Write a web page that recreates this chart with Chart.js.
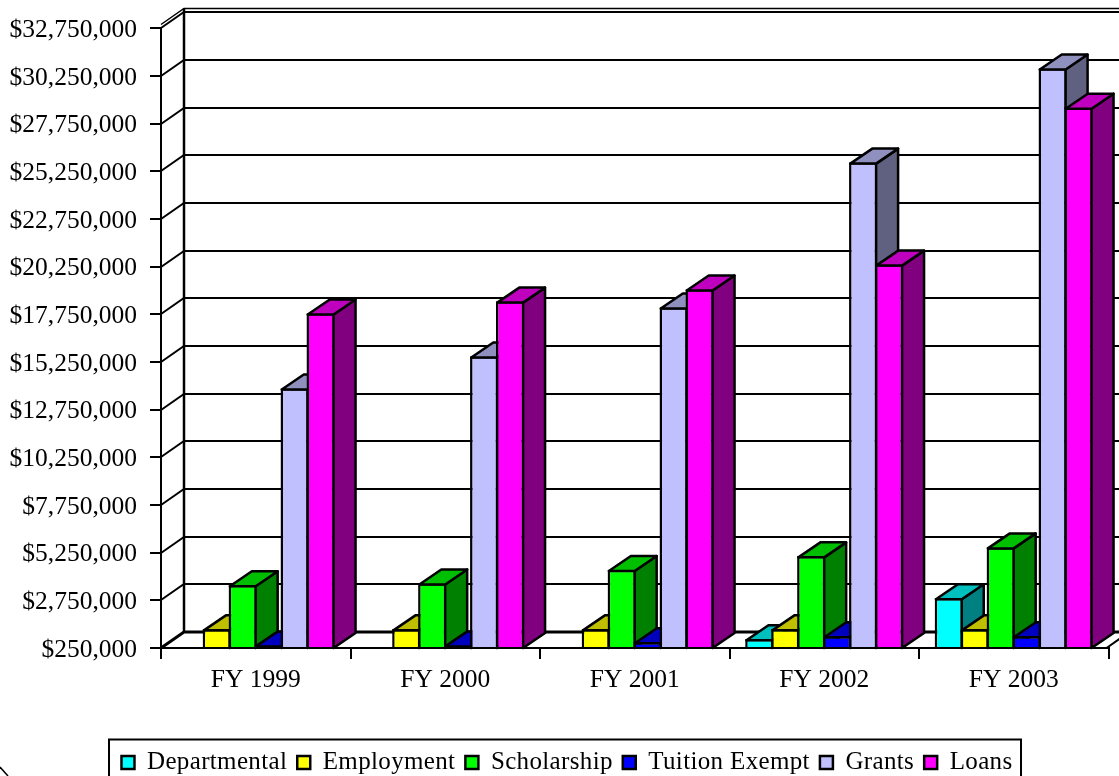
<!DOCTYPE html>
<html><head><meta charset="utf-8">
<style>html,body{margin:0;padding:0;background:#fff;overflow:hidden}canvas{display:block}</style>
<script src="https://cdn.jsdelivr.net/npm/chart.js@4"></script>
</head><body><canvas id="c" width="1119" height="776"></canvas>
<script>
const categories = ['FY 1999','FY 2000','FY 2001','FY 2002','FY 2003'];
const departmental = [null,null,null,720000,2870000];
const employment = [1240000,1240000,1240000,1240000,1240000];
const scholarship = [3550000,3650000,4350000,5070000,5540000];
const tuitionExempt = [400000,400000,560000,880000,880000];
const grants = [13870000,15550000,18120000,25720000,30650000];
const loans = [17810000,18430000,19060000,20370000,28600000];
const fills = ['#00FFFF','#FFFF00','#00FF00','#0000FF','#C0C0FF','#FF00FF'];
const tops  = ['#00BFBF','#BFBF00','#00BF00','#0000BF','#9090BF','#BF00BF'];
const sides = ['#008080','#808000','#008000','#000080','#606080','#800080'];
const names = ['Departmental','Employment','Scholarship','Tuition Exempt','Grants','Loans'];
const seriesValues = [departmental,employment,scholarship,tuitionExempt,grants,loans];
const depth = {wallX:23, wallY:16, barX:22, barY:15};
const FONT = 'Liberation Serif';
const EDGE = 2.5;
Chart.defaults.font.family = FONT;
Chart.defaults.color = '#000';

function poly(ctx, pts, fill){
  ctx.beginPath();
  pts.forEach((p,i)=> i?ctx.lineTo(p[0],p[1]):ctx.moveTo(p[0],p[1]));
  ctx.closePath();
  ctx.fillStyle=fill; ctx.fill();
  ctx.lineWidth=EDGE; ctx.strokeStyle='#000'; ctx.lineJoin='round'; ctx.stroke();
}
const walls = {
  id:'walls',
  beforeLayout(chart){ chart.ctx.letterSpacing='0.35px'; },
  afterLayout(chart){
    chart.ctx.letterSpacing='0px';
    const lg = chart.legend;
    const h = lg.height;
    lg.top = 762.5 - h/2; lg.bottom = lg.top + h;
    lg.left = 7.5; lg.right = chart.width + 7.5;
    if(!lg._wrapped){
      lg._wrapped = true;
      const d = lg.draw.bind(lg);
      lg.draw = function(){ chart.ctx.letterSpacing='0.35px'; d(); chart.ctx.letterSpacing='0px'; };
    }
  },
  beforeDraw(chart){
    const c = chart.ctx;
    c.save(); c.fillStyle='#fff'; c.fillRect(0,0,chart.width,chart.height);
    c.strokeStyle='#000'; c.lineWidth=2;
    c.strokeRect(109,739.5,912,50);
    c.lineWidth=1.5; c.beginPath(); c.moveTo(0,767); c.lineTo(8,776); c.stroke();
    c.restore();
  },
  beforeDatasetDraw(){ return false; },
  beforeDatasetsDraw(chart){
    const c = chart.ctx, y = chart.scales.y, a = chart.chartArea;
    const dx = depth.wallX, dy = depth.wallY;
    c.save(); c.strokeStyle='#000'; c.lineCap='butt';
    y.ticks.forEach((t,i)=>{
      const py = Math.round(y.getPixelForValue(t.value));
      c.lineWidth = i===0 ? 3 : 2;
      c.beginPath();
      c.moveTo(a.left,py); c.lineTo(a.left+dx,py-dy); c.lineTo(chart.width+5,py-dy);
      c.stroke();
    });
    const topY = Math.round(y.getPixelForValue(y.max));
    c.lineWidth=1.5;
    c.beginPath(); c.moveTo(a.left,topY-3.5); c.lineTo(a.left+dx,topY-dy-3.5); c.lineTo(chart.width+5,topY-dy-3.5); c.stroke();
    c.lineWidth=2.5;
    c.beginPath(); c.moveTo(a.left+dx,topY-dy-3.5); c.lineTo(a.left+dx,y.getPixelForValue(y.min)-dy); c.stroke();
    const by = y.getPixelForValue(y.min);
    c.lineWidth=2;
    c.beginPath(); c.moveTo(a.right-2,by); c.lineTo(a.right-2+dx,by-dy); c.stroke();
    c.restore();
  },
  afterDatasetsDraw(chart){
    // series painted left to right, each with its depth faces, so that a later bar hides the side of an earlier one
    const c = chart.ctx, dx = depth.barX, dy = depth.barY, a = chart.chartArea;
    const b = chart.scales.y.getPixelForValue(chart.scales.y.min);
    names.forEach((n,i)=>{
      const meta = chart.getDatasetMeta(i);
      c.save(); c.beginPath(); c.rect(0,0,chart.width,b); c.clip();
      meta.controller.draw();
      c.restore();
      meta.data.forEach((bar,k)=>{
        if(seriesValues[i][k]==null) return;
        const p = bar.getProps(['x','y','width'],true);
        const l = p.x-p.width/2+EDGE/2, r = p.x+p.width/2-EDGE/2, t = p.y+EDGE/2;
        c.save();
        poly(c,[[r,t],[r+dx,t-dy],[r+dx,b-dy],[r,b]],sides[i]);
        poly(c,[[l,t],[r,t],[r+dx,t-dy],[l+dx,t-dy]],tops[i]);
        c.restore();
      });
    });
    c.save(); c.strokeStyle='#000'; c.lineWidth=2;
    c.beginPath(); c.moveTo(a.left-11,a.bottom); c.lineTo(a.right,a.bottom); c.stroke();
    c.restore();
  }
};
function shiftLabels(s){
  if(s._shifted) return;
  s._shifted = true;
  const orig = s._computeLabelItems.bind(s);
  s._computeLabelItems = function(area){
    const items = orig(area);
    items.forEach(it=>{ it.textOffset += 2; });
    return items;
  };
}
new Chart(document.getElementById('c'),{
  type:'bar',
  plugins:[walls],
  data:{labels:categories,datasets:names.map((n,i)=>({
    label:n,data:seriesValues[i],backgroundColor:fills[i],borderColor:'#000',borderWidth:EDGE,
    borderSkipped:false,
    barPercentage:1.09,categoryPercentage:0.822
  }))},
  options:{
    responsive:false,animation:false,
    layout:{padding:{top:28,right:10.5,left:0,bottom:0}},
    plugins:{
      tooltip:{enabled:false},
      legend:{position:'bottom',labels:{font:{size:25,family:FONT},color:'#000',boxWidth:13,boxHeight:13,padding:10}}
    },
    scales:{
      x:{
        afterFit(s){ s.height = 776-648-s.chart.legend.height; },
        grid:{drawOnChartArea:false,drawTicks:true,tickLength:11,color:'#000',lineWidth:2,offset:true},
        border:{color:'#000',width:2},
        ticks:{font:{size:25.5,family:FONT},color:'#000',padding:6,maxRotation:0}
      },
      y:{
        min:250000,max:32750000,
        afterFit(s){ s.width=161; shiftLabels(s); },
        grid:{drawOnChartArea:false,drawTicks:true,tickLength:11,color:'#000',lineWidth:2},
        border:{color:'#000',width:2},
        ticks:{stepSize:2500000,font:{size:25.5,family:FONT},color:'#000',padding:13,
          callback:v=>'$'+Number(v).toLocaleString('en-US')}
      }
    }
  }
});
</script></body></html>
